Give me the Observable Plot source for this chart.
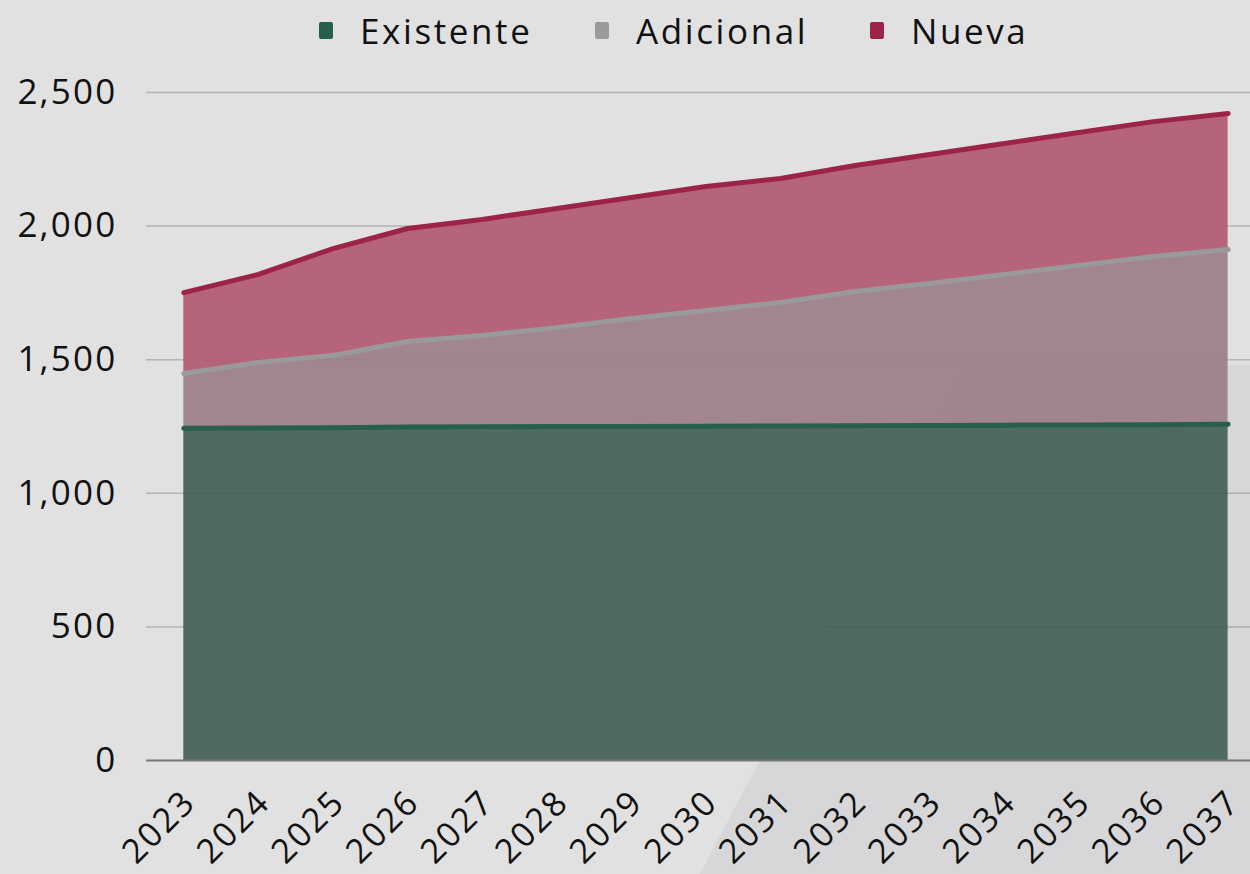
<!DOCTYPE html>
<html>
<head>
<meta charset="utf-8">
<script src="https://cdn.jsdelivr.net/npm/d3@7"></script>
<script src="https://cdn.jsdelivr.net/npm/@observablehq/plot@0.6"></script>
<style>
  html, body { margin: 0; padding: 0; width: 1250px; height: 874px; overflow: hidden; background: #e1e1e1; font-family: "Open Sans", "Lato", sans-serif; }
  #deco { position: absolute; left: 0; top: 0; width: 1250px; height: 874px; background: #d7d7d9;
          clip-path: polygon(700px 874px, 965px 370px, 1250px 365px, 1250px 874px); z-index: 0; }
  #legend { position: relative; z-index: 1; height: 62px; font-size: 35px; letter-spacing: 2.6px; color: #111; }
  .item { position: absolute; top: 0; height: 60px; display: flex; align-items: center; }
  .sw { width: 14px; height: 17px; border-radius: 2px; margin-right: 27px; }
  #chart { position: relative; z-index: 1; }
  #chart svg text { letter-spacing: 2.2px; }
</style>
</head>
<body>
<div id="deco"></div>
<div id="legend"></div>
<div id="chart"></div>
<script>
const years = [2023,2024,2025,2026,2027,2028,2029,2030,2031,2032,2033,2034,2035,2036,2037];
const existente = [1243,1244,1245,1248,1249,1250,1250,1251,1252,1253,1254,1255,1256,1257,1258];
const adicional = [205,246,271,320,342,370,404,433,462,502,531,564,597,629,654];
const nueva = [303,329,400,423,434,446,453,464,464,472,483,490,497,505,509];
const seriesNames = ["Existente","Adicional","Nueva"];
const lineColors = ["#285e4e","#9a9a9a","#9D2449"];
const fillColors = ["#405d55","#9b7c84","#b0566f"];
const yTicks = [0,500,1000,1500,2000,2500];

// legend
const legendLeft = [319, 595, 870];
const legend = document.getElementById("legend");
seriesNames.forEach((s, i) => {
  const it = document.createElement("div"); it.className = "item"; it.style.left = legendLeft[i] + "px";
  const sw = document.createElement("div"); sw.className = "sw"; sw.style.background = lineColors[i];
  const t = document.createElement("span"); t.textContent = s;
  it.appendChild(sw); it.appendChild(t); legend.appendChild(it);
});

// stacked rows
const seriesValues = [existente, adicional, nueva];
const rows = [];
years.forEach((yr, j) => {
  let base = 0;
  seriesNames.forEach((s, i) => {
    const top = base + seriesValues[i][j];
    rows.push({year: yr, serie: s, y1: base, y2: top});
    base = top;
  });
});

const areaMarks = seriesNames.map((s, i) =>
  Plot.areaY(rows.filter(d => d.serie === s), {x: "year", y1: "y1", y2: "y2", fill: fillColors[i], fillOpacity: 0.9}));
const lineMarks = seriesNames.map((s, i) =>
  Plot.lineY(rows.filter(d => d.serie === s), {x: "year", y: "y2", stroke: lineColors[i], strokeWidth: 5, strokeLinecap: "round", strokeLinejoin: "round"}));

const chart = Plot.plot({
  width: 1250,
  height: 812,
  marginTop: 30,
  marginBottom: 114,
  marginLeft: 146,
  marginRight: 0,
  style: {background: "transparent", fontFamily: "'Open Sans', Lato, sans-serif", color: "#111"},
  x: {type: "linear", domain: [2022.5, 2037.3]},
  y: {domain: [0, 2500]},
  marks: [
    Plot.ruleY(yTicks.filter(d => d > 0), {stroke: "#000", strokeOpacity: 0.2, strokeWidth: 1.5}),
    ...areaMarks,
    Plot.ruleY([0], {stroke: "#777", strokeWidth: 2}),
    ...lineMarks,
    Plot.axisY({ticks: yTicks, tickFormat: d3.format(","), tickSize: 0, tickPadding: 29, fontSize: 35, label: null}),
    Plot.axisX({ticks: years, tickFormat: d => String(d), tickRotate: -45, tickSize: 0, tickPadding: 36, dx: 6, fontSize: 34, label: null})
  ]
});
document.getElementById("chart").appendChild(chart);
</script>
</body>
</html>
